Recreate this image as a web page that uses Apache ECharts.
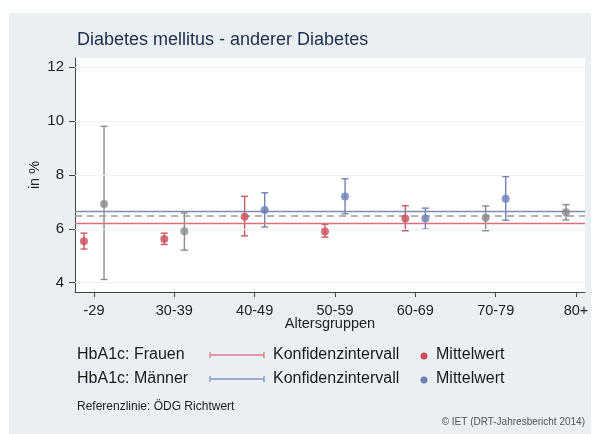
<!DOCTYPE html>
<html>
<head>
<meta charset="utf-8">
<script src="https://cdn.jsdelivr.net/npm/echarts@6/dist/echarts.min.js"></script>
<style>
html,body{margin:0;padding:0;background:#fff;}
#chart{width:594px;height:434px;}
</style>
</head>
<body>
<div id="chart"></div>
<script>
// ---- data ----
var categories = ['-29', '30-39', '40-49', '50-59', '60-69', '70-79', '80+'];
var yTicks = [4, 6, 8, 10, 12];

var femaleMean = [5.54, 5.62, 6.45, 5.90, 6.38, 6.41, 6.62];
var femaleLow  = [5.25, 5.42, 5.74, 5.69, 5.93, 5.93, 6.33];
var femaleHigh = [5.84, 5.84, 7.21, 6.17, 6.86, 6.85, 6.90];
var femaleGrey = [false, false, false, false, false, true, true];

var maleMean = [6.92, 5.91, 6.70, 7.20, 6.38, 7.12, null];
var maleLow  = [4.12, 5.21, 6.07, 6.56, 5.99, 6.32, null];
var maleHigh = [9.81, 6.59, 7.34, 7.86, 6.77, 7.94, null];
var maleGrey = [true, true, false, false, false, false, false];

var refFrauen = 6.19;
var refMaenner = 6.66;
var refOEDG = 6.47;

// ---- styles ----
var RED = '#c94f5f', BLUE = '#6c80b6', GREY = '#8a8a8a';
var RED_BAR = '#c95a68', BLUE_BAR = '#7083b6', GREY_BAR = '#8c8c8c';
var OFFSET = 0.125;

function buildPoints(mean, low, high, grey, off, col, barCol) {
  var pts = [], bars = [];
  for (var i = 0; i < categories.length; i++) {
    if (mean[i] == null) continue;
    var x = i + off;
    pts.push({ value: [x, mean[i]], itemStyle: { color: grey[i] ? GREY : col } });
    bars.push({ value: [x, low[i], high[i]], barColor: grey[i] ? GREY_BAR : barCol });
  }
  return { pts: pts, bars: bars };
}
var F = buildPoints(femaleMean, femaleLow, femaleHigh, femaleGrey, -OFFSET, RED, RED_BAR);
var M = buildPoints(maleMean, maleLow, maleHigh, maleGrey, OFFSET, BLUE, BLUE_BAR);
var allBars = F.bars.concat(M.bars);

function renderBar(params, api) {
  var x = api.value(0), lo = api.value(1), hi = api.value(2);
  var pLo = api.coord([x, lo]), pHi = api.coord([x, hi]);
  var c = allBars[params.dataIndex].barColor;
  var w = 3.5;
  var st = { stroke: c, lineWidth: 1.4 };
  return {
    type: 'group',
    children: [
      { type: 'line', shape: { x1: pLo[0], y1: pLo[1], x2: pHi[0], y2: pHi[1] }, style: st },
      { type: 'line', shape: { x1: pLo[0] - w, y1: pLo[1], x2: pLo[0] + w, y2: pLo[1] }, style: st },
      { type: 'line', shape: { x1: pHi[0] - w, y1: pHi[1], x2: pHi[0] + w, y2: pHi[1] }, style: st }
    ]
  };
}

var FONT = '"Liberation Sans", Arial, sans-serif';

var chart = echarts.init(document.getElementById('chart'), null, { renderer: 'canvas' });

function legendRow(y, label, lineCol, dotCol) {
  return [
    { type: 'text', left: 77, top: y - 8, style: { text: label, font: '16px ' + FONT, fill: '#1a1a1a' } },
    { type: 'line', shape: { x1: 210, y1: y, x2: 264, y2: y }, style: { stroke: lineCol, lineWidth: 1.3 } },
    { type: 'line', shape: { x1: 210, y1: y - 3, x2: 210, y2: y + 3 }, style: { stroke: lineCol, lineWidth: 1.3 } },
    { type: 'line', shape: { x1: 264, y1: y - 3, x2: 264, y2: y + 3 }, style: { stroke: lineCol, lineWidth: 1.3 } },
    { type: 'text', left: 273, top: y - 8, style: { text: 'Konfidenzintervall', font: '16px ' + FONT, fill: '#1a1a1a' } },
    { type: 'circle', shape: { cx: 424, cy: y + 1, r: 3.5 }, style: { fill: dotCol } },
    { type: 'text', left: 436, top: y - 8, style: { text: 'Mittelwert', font: '16px ' + FONT, fill: '#1a1a1a' } }
  ];
}

var graphics = [
  { type: 'rect', z: -10, shape: { x: 9, y: 13, width: 582, height: 421 }, style: { fill: '#e9eff2' } },
  { type: 'text', left: 77, top: 31, style: { text: 'Diabetes mellitus - anderer Diabetes', font: '18px ' + FONT, fill: '#22304f' } }
].concat(legendRow(355, 'HbA1c: Frauen', '#d4808c', RED))
 .concat(legendRow(379, 'HbA1c: M\u00e4nner', '#8494be', BLUE))
 .concat([
  { type: 'text', left: 77, top: 401, style: { text: 'Referenzlinie: \u00d6DG Richtwert', font: '12px ' + FONT, fill: '#222' } },
  { type: 'text', right: 9, top: 417, style: { text: '\u00a9 IET (DRT-Jahresbericht 2014)', font: '10px ' + FONT, fill: '#555' } }
 ]);

var option = {
  animation: false,
  backgroundColor: '#ffffff',
  textStyle: { fontFamily: FONT },
  graphic: graphics,
  grid: {
    left: 75, right: 9, top: 58, bottom: 142,
    show: true, backgroundColor: '#ffffff', borderWidth: 0
  },
  xAxis: {
    type: 'value',
    min: -0.2365, max: 6.112,
    name: 'Altersgruppen', nameLocation: 'middle', nameGap: 24, nameMoveOverlap: false,
    nameTextStyle: { fontSize: 14.5, color: '#222', fontFamily: FONT },
    axisLine: { show: true, onZero: false, lineStyle: { color: '#444', width: 1 } },
    axisTick: { show: true, length: 5, lineStyle: { color: '#444' }, customValues: [0, 1, 2, 3, 4, 5, 6] },
    axisLabel: {
      customValues: [0, 1, 2, 3, 4, 5, 6],
      margin: 11, fontSize: 14.5, color: '#222', fontFamily: FONT,
      formatter: function (v) { return categories[Math.round(v)]; }
    },
    splitLine: { show: false }
  },
  yAxis: {
    type: 'value',
    min: 3.655, max: 12.345,
    name: 'in %', nameLocation: 'middle', nameGap: 33, nameRotate: 90, nameMoveOverlap: false,
    nameTextStyle: { fontSize: 14.5, color: '#222', fontFamily: FONT },
    axisLine: { show: true, onZero: false, lineStyle: { color: '#444', width: 1 } },
    axisTick: { show: true, length: 6, lineStyle: { color: '#444' }, customValues: yTicks },
    axisLabel: { customValues: yTicks, margin: 11, fontSize: 15, color: '#222', fontFamily: FONT },
    splitLine: { show: false }
  },
  series: [
    {
      type: 'line', data: [], silent: true,
      markLine: {
        silent: true, symbol: 'none', label: { show: false }, animation: false,
        data: yTicks.map(function (t) { return { yAxis: t, lineStyle: { color: '#edf1f3', width: 1, type: 'solid' } }; })
      }
    },
    {
      type: 'line', data: [], silent: true, z: 3,
      markLine: {
        silent: true, symbol: 'none', label: { show: false }, animation: false,
        data: [
          { yAxis: refMaenner, lineStyle: { color: '#7d8cb0', width: 1.3, type: 'solid' } },
          { yAxis: refOEDG, lineStyle: { color: '#9a9a9a', width: 1.6, type: [7, 5] } },
          { yAxis: refFrauen, lineStyle: { color: '#df6f7c', width: 1.3, type: 'solid' } }
        ]
      }
    },
    {
      type: 'custom', z: 4,
      renderItem: renderBar,
      data: allBars.map(function (b) { return b.value; })
    },
    {
      type: 'scatter', z: 5, symbolSize: 8,
      data: F.pts.concat(M.pts)
    }
  ]
};
chart.setOption(option);
</script>
</body>
</html>
